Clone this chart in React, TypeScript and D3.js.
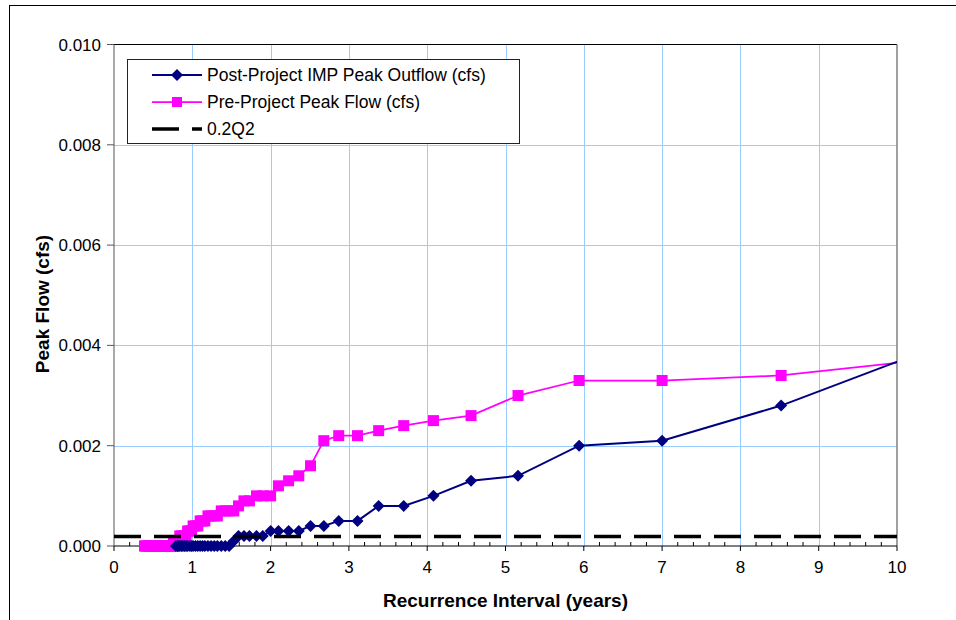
import React, { useEffect, useRef } from 'react';
import * as d3 from 'd3';

const seriesNames = ['Post-Project IMP Peak Outflow (cfs)', 'Pre-Project Peak Flow (cfs)', '0.2Q2'];
const xTicks = [0, 1, 2, 3, 4, 5, 6, 7, 8, 9, 10];
const yTicks = [0, 0.002, 0.004, 0.006, 0.008, 0.01];

// [recurrence interval (years), peak flow (cfs)]
const postProject: [number, number][] = [
  [10.89, 0.0042], [8.52, 0.0028], [7.0, 0.0021], [5.94, 0.002], [5.16, 0.0014],
  [4.56, 0.0013], [4.08, 0.001], [3.7, 0.0008], [3.38, 0.0008], [3.11, 0.0005],
  [2.87, 0.0005], [2.68, 0.0004], [2.51, 0.0004], [2.36, 0.0003], [2.23, 0.0003],
  [2.1, 0.0003], [2.0, 0.0003], [1.9, 0.0002], [1.82, 0.0002], [1.73, 0.0002],
  [1.66, 0.0002], [1.59, 0.0002], [1.53, 0.0001], [1.47, 0], [1.42, 0],
  [1.37, 0], [1.32, 0], [1.28, 0], [1.24, 0], [1.2, 0], [1.16, 0], [1.13, 0],
  [1.1, 0], [1.07, 0], [1.04, 0], [1.01, 0], [0.99, 0], [0.97, 0], [0.94, 0],
  [0.92, 0], [0.9, 0], [0.88, 0], [0.86, 0], [0.84, 0], [0.82, 0], [0.81, 0], [0.79, 0],
];

const preProject: [number, number][] = [
  [10.89, 0.0038], [8.52, 0.0034], [7.0, 0.0033], [5.94, 0.0033], [5.16, 0.003],
  [4.56, 0.0026], [4.08, 0.0025], [3.7, 0.0024], [3.38, 0.0023], [3.11, 0.0022],
  [2.87, 0.0022], [2.68, 0.0021], [2.51, 0.0016], [2.36, 0.0014], [2.23, 0.0013],
  [2.1, 0.0012], [2.0, 0.001], [1.9, 0.001], [1.82, 0.001], [1.73, 0.0009],
  [1.66, 0.0009], [1.59, 0.0008], [1.53, 0.0007], [1.47, 0.0007], [1.42, 0.0007],
  [1.37, 0.0007], [1.32, 0.0006], [1.28, 0.0006], [1.24, 0.0006], [1.2, 0.0006],
  [1.16, 0.0005], [1.13, 0.0005], [1.1, 0.0005], [1.07, 0.0004], [1.04, 0.0004],
  [1.01, 0.0004], [0.99, 0.0003], [0.97, 0.0003], [0.94, 0.0003], [0.92, 0.0002],
  [0.9, 0.0002], [0.88, 0.0002], [0.86, 0.0002], [0.84, 0.0002], [0.82, 0.0001],
  [0.81, 0.0001], [0.79, 0.0001], [0.78, 0.0001], [0.76, 0.0001], [0.75, 0],
  [0.73, 0], [0.72, 0], [0.71, 0], [0.69, 0], [0.68, 0], [0.67, 0], [0.66, 0],
  [0.64, 0], [0.62, 0], [0.6, 0], [0.58, 0], [0.56, 0], [0.54, 0], [0.52, 0],
  [0.5, 0], [0.48, 0], [0.46, 0], [0.44, 0], [0.42, 0], [0.4, 0], [0.39, 0],
];

const q2Line: [number, number][] = [[0, 0.00019], [10, 0.00019]];

const NAVY = '#000080';
const MAGENTA = '#ff00ff';
const GRID = '#99ccff';
const FONT = '"Liberation Sans", Arial, sans-serif';

function FlowFrequencyChart() {
  const ref = useRef<SVGSVGElement>(null);

  useEffect(() => {
    const svg = d3.select(ref.current);
    svg.selectAll('*').remove();

    const left = 114, right = 897, top = 44.5, bottom = 546;
    const x = d3.scaleLinear().domain([0, 10]).range([left, right]);
    const y = d3.scaleLinear().domain([0, 0.01]).range([bottom, top]);

    // outer chart frame
    svg.append('rect')
      .attr('x', 9.5).attr('y', 5.5).attr('width', 990).attr('height', 700)
      .attr('fill', 'white').attr('stroke', '#000').attr('stroke-width', 1);

    svg.append('defs').append('clipPath').attr('id', 'plot-clip')
      .append('rect').attr('x', left - 30).attr('y', 0).attr('width', right - left + 30).attr('height', 620);

    // gridlines
    const grid = svg.append('g');
    grid.selectAll('line.v').data(xTicks.slice(1, -1)).enter().append('line')
      .attr('x1', d => Math.round(x(d)) + 0.5).attr('x2', d => Math.round(x(d)) + 0.5)
      .attr('y1', top).attr('y2', bottom)
      .attr('stroke', GRID).attr('stroke-width', 1);
    grid.selectAll('line.h').data(yTicks.slice(1, -1)).enter().append('line')
      .attr('x1', left).attr('x2', right)
      .attr('y1', d => Math.round(y(d)) + 0.5).attr('y2', d => Math.round(y(d)) + 0.5)
      .attr('stroke', GRID).attr('stroke-width', 1);

    // plot area border (top / right)
    svg.append('line').attr('x1', left).attr('x2', right).attr('y1', top).attr('y2', top)
      .attr('stroke', '#000').attr('stroke-width', 1);
    svg.append('line').attr('x1', right).attr('x2', right).attr('y1', top).attr('y2', bottom)
      .attr('stroke', '#808080').attr('stroke-width', 1.5);

    // axes
    const axes = svg.append('g');
    axes.append('line').attr('x1', left).attr('x2', left).attr('y1', top).attr('y2', bottom)
      .attr('stroke', '#555').attr('stroke-width', 1);
    axes.append('line').attr('x1', left).attr('x2', right).attr('y1', bottom).attr('y2', bottom)
      .attr('stroke', '#000').attr('stroke-width', 1);
    axes.selectAll('line.yt').data(yTicks).enter().append('line')
      .attr('x1', left - 7).attr('x2', left)
      .attr('y1', d => y(d)).attr('y2', d => y(d))
      .attr('stroke', '#555');
    axes.selectAll('line.xt').data(xTicks).enter().append('line')
      .attr('x1', d => x(d)).attr('x2', d => x(d))
      .attr('y1', bottom).attr('y2', bottom + 5)
      .attr('stroke', '#000');
    axes.selectAll('line.xm').data(d3.range(1, 50).filter(i => i % 5 !== 0).map(i => i * 0.2)).enter().append('line')
      .attr('x1', d => x(d)).attr('x2', d => x(d))
      .attr('y1', bottom - 4).attr('y2', bottom)
      .attr('stroke', '#000');

    axes.selectAll('text.yl').data(yTicks).enter().append('text')
      .attr('x', left - 13).attr('y', d => y(d) + 6)
      .attr('text-anchor', 'end')
      .style('font-family', FONT).style('font-size', '17px')
      .text(d => d3.format('.3f')(d));
    axes.selectAll('text.xl').data(xTicks).enter().append('text')
      .attr('x', d => x(d)).attr('y', bottom + 27)
      .attr('text-anchor', 'middle')
      .style('font-family', FONT).style('font-size', '17px')
      .text(d => d);

    svg.append('text')
      .attr('x', (left + right) / 2).attr('y', 607)
      .attr('text-anchor', 'middle')
      .style('font-family', FONT).style('font-size', '19px').style('font-weight', 'bold')
      .text('Recurrence Interval (years)');
    svg.append('text')
      .attr('transform', 'translate(49,304) rotate(-90)')
      .attr('text-anchor', 'middle')
      .style('font-family', FONT).style('font-size', '19px').style('font-weight', 'bold')
      .text('Peak Flow (cfs)');

    // series
    const line = d3.line<[number, number]>().x(d => x(d[0])).y(d => y(d[1]));
    const plot = svg.append('g').attr('clip-path', 'url(#plot-clip)');
    const diamond = 'M0,-6L6,0L0,6L-6,0Z';

    plot.append('path').datum(preProject)
      .attr('d', line).attr('fill', 'none')
      .attr('stroke', MAGENTA).attr('stroke-width', 1.75);
    plot.selectAll('rect.pre').data(preProject).enter().append('rect')
      .attr('x', d => x(d[0]) - 5.5).attr('y', d => y(d[1]) - 5.5)
      .attr('width', 11).attr('height', 11)
      .attr('fill', MAGENTA);

    plot.append('path').datum(postProject)
      .attr('d', line).attr('fill', 'none')
      .attr('stroke', NAVY).attr('stroke-width', 2);
    plot.selectAll('path.post').data(postProject).enter().append('path')
      .attr('transform', d => `translate(${x(d[0])},${y(d[1])})`)
      .attr('d', diamond)
      .attr('fill', NAVY);

    plot.append('path').datum(q2Line)
      .attr('d', line).attr('fill', 'none')
      .attr('stroke', '#000').attr('stroke-width', 3.5)
      .attr('stroke-dasharray', '27,13');

    // legend
    const lg = svg.append('g');
    lg.append('rect')
      .attr('x', 127.5).attr('y', 59.5).attr('width', 392).attr('height', 84)
      .attr('fill', 'white').attr('stroke', '#222').attr('stroke-width', 1);
    const rows = [75, 102, 129];
    lg.append('line').attr('x1', 152).attr('x2', 202).attr('y1', rows[0]).attr('y2', rows[0])
      .attr('stroke', NAVY).attr('stroke-width', 2);
    lg.append('path').attr('transform', `translate(177,${rows[0]})`).attr('d', diamond).attr('fill', NAVY);
    lg.append('line').attr('x1', 152).attr('x2', 202).attr('y1', rows[1]).attr('y2', rows[1])
      .attr('stroke', MAGENTA).attr('stroke-width', 1.75);
    lg.append('rect').attr('x', 172).attr('y', rows[1] - 5).attr('width', 10).attr('height', 10).attr('fill', MAGENTA);
    lg.append('line').attr('x1', 152).attr('x2', 202).attr('y1', rows[2]).attr('y2', rows[2])
      .attr('stroke', '#000').attr('stroke-width', 3.5).attr('stroke-dasharray', '27,13');
    lg.selectAll('text').data(seriesNames).enter().append('text')
      .attr('x', 207).attr('y', (d, i) => rows[i] + 6)
      .style('font-family', FONT).style('font-size', '17.5px')
      .text(d => d);
  }, []);

  return (
    <svg ref={ref} width={956} height={620}
      style={{ position: 'absolute', left: 0, top: 0, display: 'block' }} />
  );
}

export default function App() {
  return <FlowFrequencyChart />;
}
